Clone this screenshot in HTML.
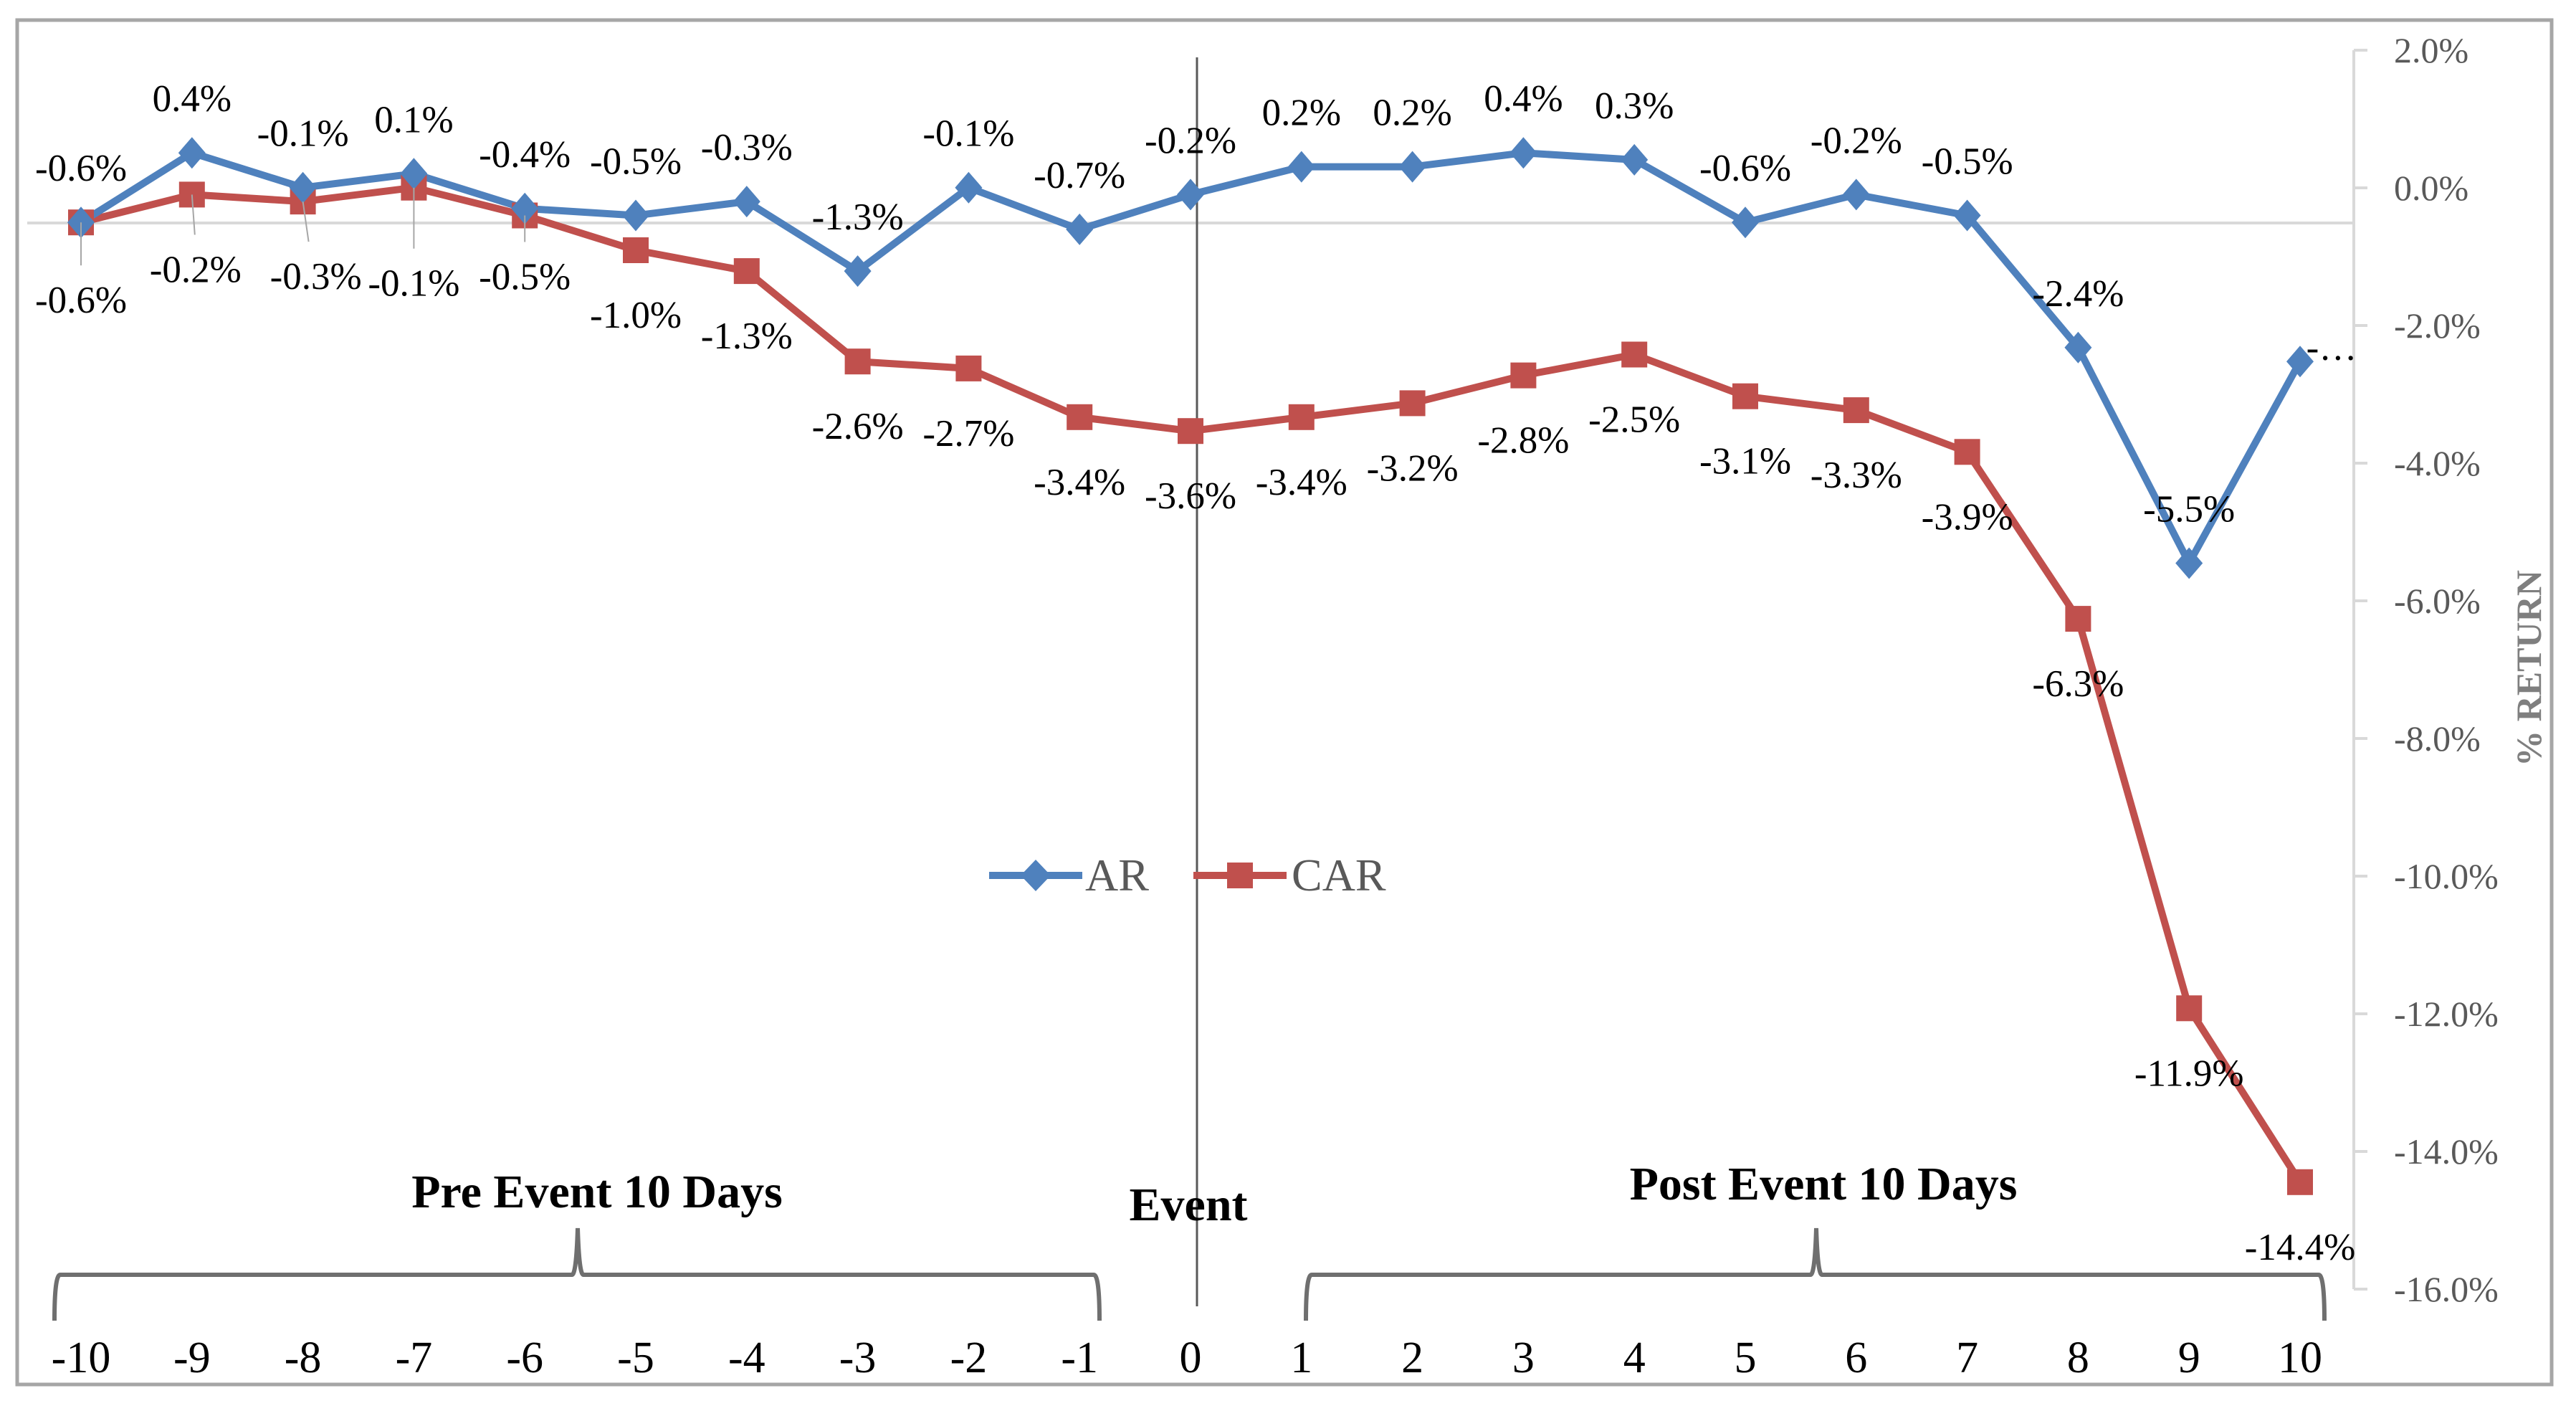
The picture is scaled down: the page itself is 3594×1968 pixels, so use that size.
<!DOCTYPE html>
<html><head><meta charset="utf-8"><style>
html,body{margin:0;padding:0;background:#fff;}
svg{display:block;}
</style></head><body>
<svg id="chart" width="3594" height="1968" viewBox="0 0 3594 1968" xmlns="http://www.w3.org/2000/svg" font-family="'Liberation Serif', serif">
<rect x="24" y="28" width="3536" height="1903" fill="#fff" stroke="#a6a6a6" stroke-width="5"/>
<line x1="38" y1="311" x2="3284" y2="311" stroke="#d9d9d9" stroke-width="4"/>
<line x1="1670" y1="80" x2="1670" y2="1822" stroke="#595959" stroke-width="3"/>
<g id="yaxis"></g>
<text transform="translate(3545,932) rotate(-90)" text-anchor="middle" font-size="50" font-weight="bold" fill="#7f7f7f">% RETURN</text>
<g id="series"></g>
<g id="labels"></g>
<g id="xaxis"></g>
<path d="M76,1842 Q76,1778 84,1778 L798,1778 Q804,1778 806,1713 Q808,1778 814,1778 L1526,1778 Q1534,1778 1534,1842" fill="none" stroke="#6f6f6f" stroke-width="6"/>
<path d="M1822,1842 Q1822,1778 1830,1778 L2526,1778 Q2532,1778 2534,1713 Q2536,1778 2542,1778 L3235,1778 Q3243,1778 3243,1842" fill="none" stroke="#6f6f6f" stroke-width="6"/>
<text x="833" y="1684" text-anchor="middle" font-size="66" font-weight="bold">Pre Event 10 Days</text>
<text x="1658" y="1702" text-anchor="middle" font-size="66" font-weight="bold">Event</text>
<text x="2544" y="1673" text-anchor="middle" font-size="66" font-weight="bold">Post Event 10 Days</text>
<g>
<line x1="1380" y1="1221" x2="1510" y2="1221" stroke="#4f81bd" stroke-width="10"/>
<path d="M1445,1199 L1466,1221 L1445,1243 L1424,1221 Z" fill="#4f81bd"/>
<text x="1514" y="1242" font-size="64" fill="#595959">AR</text>
<line x1="1665" y1="1221" x2="1795" y2="1221" stroke="#c0504d" stroke-width="10"/>
<rect x="1712" y="1203" width="36" height="36" fill="#c0504d"/>
<text x="1802" y="1242" font-size="64" fill="#595959">CAR</text>
</g>
</svg>
<script>
const days = [-10,-9,-8,-7,-6,-5,-4,-3,-2,-1,0,1,2,3,4,5,6,7,8,9,10];
const arValues = [-0.6,0.4,-0.1,0.1,-0.4,-0.5,-0.3,-1.3,-0.1,-0.7,-0.2,0.2,0.2,0.4,0.3,-0.6,-0.2,-0.5,-2.4,-5.5,-2.6];
const carValues = [-0.6,-0.2,-0.3,-0.1,-0.5,-1.0,-1.3,-2.6,-2.7,-3.4,-3.6,-3.4,-3.2,-2.8,-2.5,-3.1,-3.3,-3.9,-6.3,-11.9,-14.4];
const yTickLabels = ["2.0%","0.0%","-2.0%","-4.0%","-6.0%","-8.0%","-10.0%","-12.0%","-14.0%","-16.0%"];

const NS = "http://www.w3.org/2000/svg";
function xScale(d){ return 113 + (d + 10) * 154.8; }
function yScale(v){ return 252 - v * 97; }
function mk(tag, attrs, parent){
  const e = document.createElementNS(NS, tag);
  for (const k in attrs) e.setAttribute(k, attrs[k]);
  parent.appendChild(e);
  return e;
}
function fmt(v){ return v.toFixed(1) + "%"; }

const ya = document.getElementById("yaxis");
const axLine = mk("line", {x1:3284,y1:70,x2:3284,y2:1798,stroke:"#d9d9d9","stroke-width":4}, ya);


yTickLabels.forEach((t, i) => {
  const y = 70 + i * 192;
  const tk = mk("line", {x1:3284,y1:y,x2:3303,y2:y,stroke:"#d9d9d9","stroke-width":4}, ya);
  
  
  const tx = mk("text", {x:3340,y:y+17,"font-size":50,fill:"#595959"}, ya);
  
  
  tx.textContent = t;
});

const xa = document.getElementById("xaxis");
days.forEach(d => {
  const t = mk("text", {x:xScale(d),y:1914,"text-anchor":"middle","font-size":62,fill:"#000"}, xa);
  
  
  t.textContent = String(d);
});

const sg = document.getElementById("series");
function pts(vals){ return vals.map((v,i)=>xScale(days[i])+","+yScale(v)).join(" "); }
const carLine = mk("polyline", {points:pts(carValues),fill:"none",stroke:"#c0504d","stroke-width":10,"stroke-linejoin":"round"}, sg);


const arLine = mk("polyline", {points:pts(arValues),fill:"none",stroke:"#4f81bd","stroke-width":10,"stroke-linejoin":"round"}, sg);



const lg = document.getElementById("labels");
const carOffsets = [108,104,104,133,85];
carValues.forEach((v,i) => {
  const x = xScale(days[i]), y = yScale(v);
  const m = mk("rect", {x:x-18,y:y-18,width:36,height:36,fill:"#c0504d"}, sg);
  
  
  const off = i < carOffsets.length ? carOffsets[i] : 90;
  if (i < carOffsets.length) {
    const l = mk("line", {x1:x,y1:y,x2:x+(i===2?8:(i===1?4:0)),y2:y+off-48,stroke:"#a6a6a6","stroke-width":2}, lg);
    
    
  }
  const t = mk("text", {x:x+(i===1?5:(i===2?18:0)),y:y+off+18,"text-anchor":"middle","font-size":53,fill:"#000"}, lg);
  
  
  t.textContent = fmt(v);
});
arValues.forEach((v,i) => {
  const x = xScale(days[i]), y = yScale(v);
  const m = mk("path", {d:`M${x},${y-22} L${x+19},${y} L${x},${y+22} L${x-19},${y} Z`,fill:"#4f81bd"}, sg);
  
  
  const last = i === arValues.length - 1;
  const t = mk("text", {x:last?x+44:x,y:last?y-2:y-58,"text-anchor":"middle","font-size":53,fill:"#000"}, lg);
  
  
  t.textContent = last ? "-…" : fmt(v);
});
</script>
</body></html>
